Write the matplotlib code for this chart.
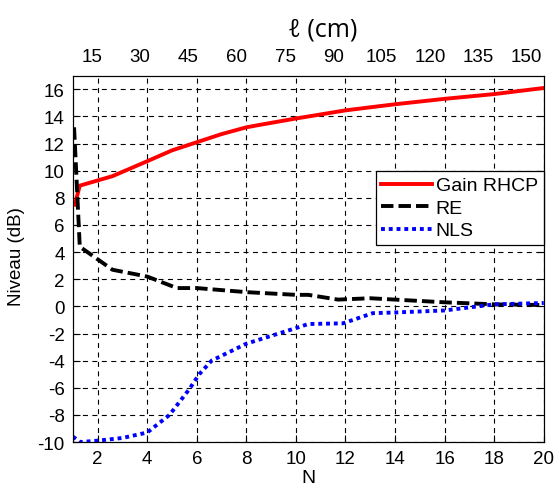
import matplotlib
matplotlib.use("Agg")
import matplotlib.pyplot as plt

plt.rcParams['font.family'] = ['Liberation Sans', 'DejaVu Sans']
plt.rcParams['axes.unicode_minus'] = False

# Gain RHCP
n_gain = [1.08, 1.28, 2.6, 4.0, 5.0, 6.0, 7.0, 8.0, 8.6, 10.0, 11.0, 12.0, 14.0, 16.0, 18.0, 20.0]
gain = [7.5, 8.9, 9.6, 10.7, 11.5, 12.1, 12.7, 13.2, 13.4, 13.85, 14.15, 14.45, 14.9, 15.3, 15.65, 16.1]

# RE
n_re = [1.05, 1.28, 2.6, 4.0, 5.2, 6.0, 8.0, 10.0, 10.5, 11.7, 13.0, 14.0, 16.0, 18.0, 20.0]
re = [13.2, 4.4, 2.7, 2.2, 1.35, 1.35, 1.05, 0.85, 0.85, 0.5, 0.6, 0.5, 0.3, 0.15, 0.1]

# NLS
n_nls = [1.0, 1.3, 2.0, 3.0, 4.0, 4.9, 5.7, 6.1, 6.6, 8.0, 10.0, 10.5, 11.9, 13.1, 14.0, 16.0, 18.0, 20.0]
nls = [-9.6, -10.0, -9.9, -9.7, -9.3, -8.0, -6.1, -5.0, -4.0, -2.75, -1.6, -1.3, -1.25, -0.5, -0.45, -0.3, 0.15, 0.25]

n_ticks = list(range(2, 21, 2))
y_ticks = list(range(-10, 17, 2))
l_ticks = list(range(15, 151, 15))

fig = plt.figure(figsize=(5.56, 4.89), dpi=100)
ax = fig.add_axes([0.131, 0.094, 0.847, 0.749])

ax.plot(n_gain, gain, color='red', lw=2.8, label='Gain RHCP')
ax.plot(n_re, re, color='black', lw=2.8, ls=(0, (3.2, 1.3)), label='RE')
ax.plot(n_nls, nls, color='blue', lw=2.8, ls=(0, (1, 1)), label='NLS')

ax.set_xlim(1, 20)
ax.set_ylim(-10, 17)
ax.set_xticks(n_ticks)
ax.set_yticks(y_ticks)
ax.tick_params(direction='in', top=True, right=True, labelsize=13.5, length=5, pad=6)
ax.grid(True, color='black', ls=(0, (4.5, 4)), lw=0.8)
ax.set_xlabel('N', fontsize=14, labelpad=1)
ax.set_ylabel('Niveau (dB)', fontsize=13.5)
ax.yaxis.set_label_coords(-0.102, 0.508)

leg = ax.legend(loc='upper right', bbox_to_anchor=(1.0, 0.74), fontsize=14,
                fancybox=False, edgecolor='black', framealpha=1,
                handlelength=2.6, borderpad=0.3, labelspacing=0.25, handletextpad=0.2,
                borderaxespad=0)
leg.get_frame().set_linewidth(0.9)

# top axis in cm, labels only
top = ax.twiny()
top.set_xlim(9.1, 155.3)
top.set_xticks(l_ticks)
top.tick_params(length=0, labelsize=13.5, pad=8)

fig.text(323 / 556, 1 - 30 / 489, 'ℓ (cm)', fontsize=18, ha='center', va='center',
         family=['Open Sans', 'DejaVu Sans'])

fig.savefig('out.png', dpi=100)
